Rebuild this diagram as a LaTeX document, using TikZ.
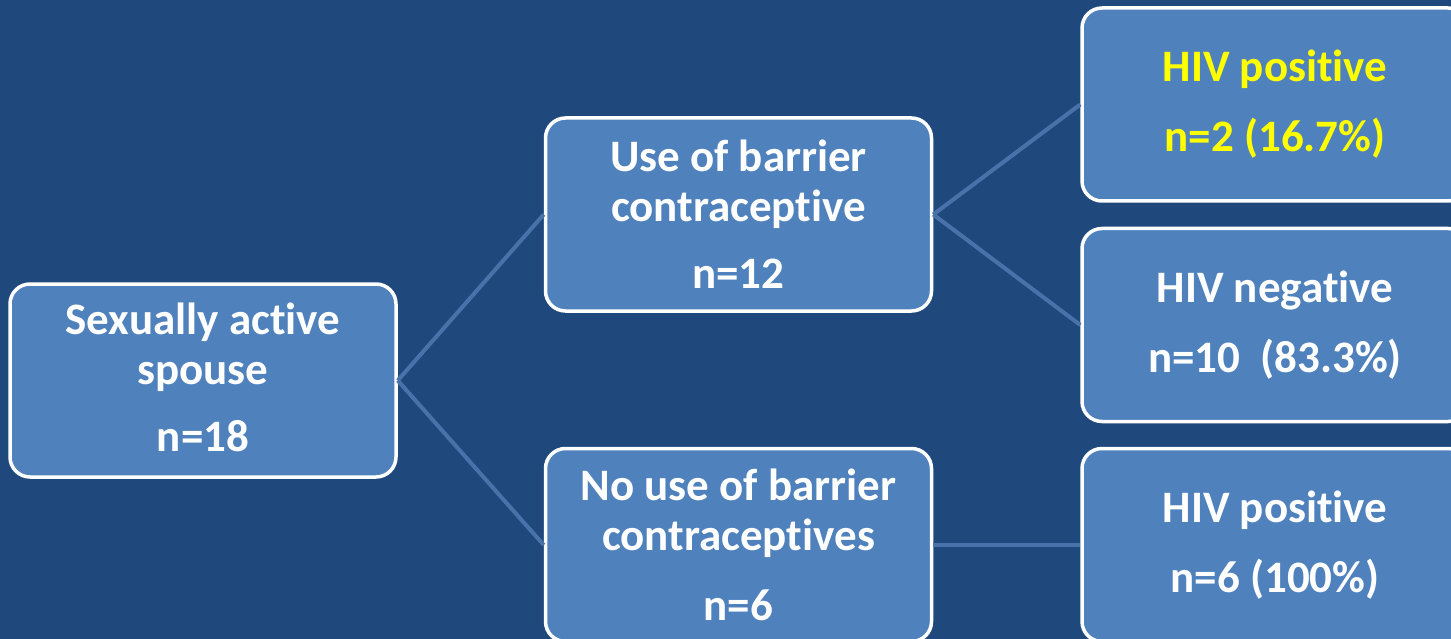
\documentclass[tikz,border=0pt]{standalone}
\usepackage{fontspec}
\setmainfont{Carlito}[Ligatures={NoCommon}]
\definecolor{bg}{RGB}{31,73,125}
\definecolor{boxfill}{RGB}{79,129,189}
\definecolor{linec}{RGB}{74,114,170}
\definecolor{hl}{RGB}{255,255,0}
\newcommand\tii{t\kern0pt i}
\begin{document}
\begin{tikzpicture}[x=1pt,y=-1pt,
  box/.style={rectangle, rounded corners=20pt, draw=white, line width=3.5pt, fill=boxfill,
    minimum width=386pt, minimum height=193pt, inner sep=0pt, align=center, text=white,
    font=\bfseries\fontsize{45}{50}\selectfont},
  conn/.style={draw=linec, line width=4pt}]
\fill[bg] (0,0) rectangle (1451,639);
\useasboundingbox (0,0) rectangle (1451,639);
\node[box] (A) at (203,380.5) {Sexually ac\tii ve\\spouse\\[17pt]n=18\rule[-6pt]{0pt}{6pt}};
\node[box] (B) at (738.5,214.5) {Use of barrier\\contracep\tii ve\\[17pt]n=12};
\node[box] (C) at (738.5,545) {No use of barrier\\contracep\tii ves\\[20pt]n=6};
\node[box, text=hl] (D) at (1275,104.5) {HIV posi\tii ve\\[20pt]n=2 (16.7\%)};
\node[box] (E) at (1275,325) {HIV nega\tii ve\\[20pt]n=10\ \ (83.3\%)};
\node[box] (F) at (1275,545) {HIV posi\tii ve\\[20pt]n=6 (100\%)};
\draw[conn] (A.east) -- (B.west);
\draw[conn] (A.east) -- (C.west);
\draw[conn] (B.east) -- (D.west);
\draw[conn] (B.east) -- (E.west);
\draw[conn] (C.east) -- (F.west);
\end{tikzpicture}
\end{document}
